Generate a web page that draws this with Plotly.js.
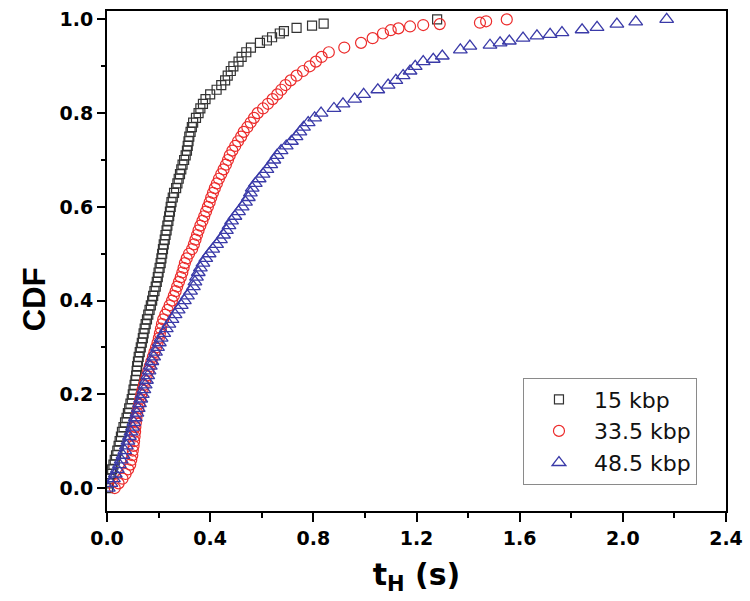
<!DOCTYPE html>
<html>
<head>
<meta charset="utf-8">
<script src="https://cdn.plot.ly/plotly-3.0.1.min.js"></script>
<style>html,body{margin:0;padding:0;background:#fff;}#chart{width:750px;height:601px;}</style>
</head>
<body>
<div id="chart"></div>
<script>
// Series names
const seriesNames = ["15 kbp", "33.5 kbp", "48.5 kbp"];
const yTitle = "CDF";
const xTitle = "t<sub>H</sub> (s)";

// 15 kbp (black squares)
const x15 = [0.004,0.007,0.010,0.015,0.020,0.025,0.030,0.035,0.040,0.045,0.049,0.054,0.058,0.064,0.070,0.076,0.081,0.086,0.091,0.096,
  0.100,0.103,0.107,0.110,0.113,0.115,0.117,0.120,0.123,0.127,0.131,0.135,0.139,0.142,0.146,0.150,0.155,0.160,0.165,0.170,
  0.175,0.179,0.184,0.189,0.193,0.197,0.200,0.204,0.208,0.211,0.214,0.217,0.220,0.224,0.227,0.231,0.234,0.238,0.241,0.244,
  0.247,0.250,0.255,0.260,0.268,0.273,0.278,0.283,0.288,0.293,0.299,0.305,0.310,0.313,0.316,0.319,0.324,0.329,0.334,0.345,
  0.355,0.362,0.372,0.382,0.400,0.425,0.443,0.458,0.468,0.480,0.490,0.510,0.522,0.540,0.558,0.593,0.620,0.640,0.670,0.686,
  0.735,0.795,0.840,1.280];
const y15 = [0.00,0.01,0.02,0.03,0.04,0.05,0.06,0.07,0.08,0.09,0.10,0.11,0.12,0.13,0.14,0.15,0.16,0.17,0.18,0.19,
  0.20,0.21,0.22,0.23,0.24,0.25,0.26,0.27,0.28,0.29,0.30,0.31,0.32,0.33,0.34,0.35,0.36,0.37,0.38,0.39,
  0.40,0.41,0.42,0.43,0.44,0.45,0.46,0.47,0.48,0.49,0.50,0.51,0.52,0.53,0.54,0.55,0.56,0.57,0.58,0.59,
  0.60,0.61,0.62,0.63,0.64,0.65,0.66,0.67,0.68,0.69,0.70,0.71,0.72,0.73,0.74,0.75,0.76,0.77,0.78,0.79,
  0.80,0.81,0.82,0.83,0.84,0.85,0.86,0.87,0.88,0.89,0.90,0.91,0.92,0.93,0.94,0.95,0.955,0.962,0.970,0.975,
  0.982,0.987,0.991,1.000];

// 33.5 kbp (red circles)
const x335 = [0.030,0.045,0.060,0.072,0.082,0.090,0.094,0.098,0.100,0.103,0.105,0.107,0.109,0.110,0.112,0.114,0.117,0.121,0.125,0.129,
  0.133,0.138,0.143,0.148,0.154,0.160,0.166,0.172,0.178,0.184,0.190,0.196,0.201,0.205,0.209,0.213,0.218,0.226,0.235,0.243,
  0.252,0.259,0.266,0.272,0.279,0.286,0.292,0.297,0.302,0.309,0.318,0.330,0.337,0.343,0.349,0.355,0.362,0.370,0.377,0.384,
  0.391,0.398,0.404,0.411,0.418,0.426,0.434,0.443,0.452,0.461,0.469,0.476,0.486,0.497,0.508,0.520,0.530,0.544,0.557,0.570,
  0.584,0.605,0.624,0.642,0.660,0.676,0.692,0.712,0.735,0.760,0.786,0.810,0.832,0.860,0.920,0.985,1.030,1.070,1.100,1.130,
  1.175,1.226,1.290,1.446,1.470,1.550];
const y335 = [0.00,0.01,0.02,0.03,0.04,0.05,0.06,0.07,0.08,0.09,0.10,0.11,0.12,0.13,0.14,0.15,0.16,0.17,0.18,0.19,
  0.20,0.21,0.22,0.23,0.24,0.25,0.26,0.27,0.28,0.29,0.30,0.31,0.32,0.33,0.34,0.35,0.36,0.37,0.38,0.39,
  0.40,0.41,0.42,0.43,0.44,0.45,0.46,0.47,0.48,0.49,0.50,0.51,0.52,0.53,0.54,0.55,0.56,0.57,0.58,0.59,
  0.60,0.61,0.62,0.63,0.64,0.65,0.66,0.67,0.68,0.69,0.70,0.71,0.72,0.73,0.74,0.75,0.76,0.77,0.78,0.79,
  0.80,0.81,0.82,0.83,0.84,0.85,0.86,0.87,0.88,0.89,0.90,0.91,0.92,0.93,0.94,0.95,0.96,0.970,0.977,0.981,
  0.985,0.988,0.990,0.993,0.996,1.000];

// 48.5 kbp (blue triangles)
const x485 = [0.005,0.015,0.025,0.032,0.040,0.048,0.055,0.062,0.069,0.075,0.081,0.087,0.093,0.099,0.104,0.110,0.116,0.121,0.126,0.131,
  0.137,0.143,0.148,0.153,0.158,0.163,0.168,0.174,0.181,0.188,0.196,0.203,0.210,0.220,0.230,0.240,0.252,0.264,0.276,0.288,
  0.300,0.312,0.324,0.335,0.341,0.347,0.354,0.362,0.372,0.383,0.396,0.410,0.425,0.440,0.452,0.463,0.473,0.483,0.496,0.510,
  0.524,0.537,0.548,0.556,0.563,0.575,0.590,0.605,0.620,0.635,0.647,0.659,0.675,0.695,0.715,0.733,0.748,0.762,0.780,0.805,
  0.830,0.880,0.915,0.960,0.995,1.050,1.090,1.120,1.148,1.175,1.195,1.226,1.265,1.300,1.370,1.407,1.485,1.524,1.560,1.613,
  1.667,1.718,1.764,1.842,1.900,1.977,2.050,2.170];
const y485 = [0.00,0.01,0.02,0.03,0.04,0.05,0.06,0.07,0.08,0.09,0.10,0.11,0.12,0.13,0.14,0.15,0.16,0.17,0.18,0.19,
  0.20,0.21,0.22,0.23,0.24,0.25,0.26,0.27,0.28,0.29,0.30,0.31,0.32,0.33,0.34,0.35,0.36,0.37,0.38,0.39,
  0.40,0.41,0.42,0.43,0.44,0.45,0.46,0.47,0.48,0.49,0.50,0.51,0.52,0.53,0.54,0.55,0.56,0.57,0.58,0.59,
  0.60,0.61,0.62,0.63,0.64,0.65,0.66,0.67,0.68,0.69,0.70,0.71,0.72,0.73,0.74,0.75,0.76,0.77,0.78,0.79,
  0.80,0.81,0.82,0.83,0.84,0.85,0.86,0.87,0.88,0.89,0.90,0.91,0.915,0.922,0.935,0.943,0.945,0.950,0.954,0.960,
  0.965,0.968,0.972,0.978,0.983,0.990,0.995,1.000];

const traces = [
  {x: x15, y: y15, name: seriesNames[0], type: 'scatter', mode: 'markers', legendgroup: 'a',
   marker: {symbol: 'square-open', size: 9, color: '#333333', line: {width: 1.2}}},
  {x: x335, y: y335, name: seriesNames[1], type: 'scatter', mode: 'markers', legendgroup: 'b',
   marker: {symbol: 'circle-open', size: 11, color: '#ec2b2b', line: {width: 1.2}}},
  {x: x485, y: y485, name: seriesNames[2], type: 'scatter', mode: 'markers', legendgroup: 'c',
   marker: {symbol: 'triangle-up-open', size: 12, color: '#3a3aa8', line: {width: 1.3}}}
];

const tickFont = {family: 'DejaVu Sans', size: 19, color: '#000', weight: 'bold'};

const layout = {
  width: 750, height: 601,
  margin: {l: 107, r: 24, t: 11, b: 90},
  paper_bgcolor: '#fff', plot_bgcolor: '#fff',
  showlegend: true,
  legend: {
    x: 0.672, xanchor: 'left', y: 0.267, yanchor: 'top',
    bordercolor: '#8a8a8a', borderwidth: 1, bgcolor: '#fff',
    font: {family: 'DejaVu Sans', size: 22, color: '#111'},
    tracegroupgap: 0, itemwidth: 60
  },
  xaxis: {
    range: [0, 2.4], dtick: 0.4, tick0: 0, tickformat: '.1f',
    showgrid: false, zeroline: false,
    showline: true, linecolor: '#000', linewidth: 2, mirror: true,
    ticks: 'outside', ticklen: 9, tickwidth: 2, tickcolor: '#000',
    minor: {dtick: 0.2, tick0: 0, ticks: 'outside', ticklen: 5, tickwidth: 2, tickcolor: '#000'},
    tickfont: tickFont,
    title: {text: xTitle, font: {family: 'DejaVu Sans', size: 30, color: '#000', weight: 'bold'}, standoff: 16},
    automargin: false
  },
  yaxis: {
    range: [-0.049, 1.018], dtick: 0.2, tick0: 0, tickformat: '.1f',
    showgrid: false, zeroline: false,
    showline: true, linecolor: '#000', linewidth: 2, mirror: true,
    ticks: 'outside', ticklen: 8, tickwidth: 2, tickcolor: '#000',
    minor: {dtick: 0.1, tick0: 0, ticks: 'outside', ticklen: 4, tickwidth: 2, tickcolor: '#000'},
    tickfont: tickFont,
    automargin: false
  },
  annotations: [{
    text: yTitle, textangle: -90, showarrow: false,
    xref: 'paper', yref: 'y', x: -0.118, y: 0.403, xanchor: 'center', yanchor: 'middle',
    font: {family: 'Liberation Sans', size: 31, color: '#000', weight: 'bold'}
  }]
};

Plotly.newPlot('chart', traces, layout, {displayModeBar: false, staticPlot: true});
</script>
</body>
</html>
